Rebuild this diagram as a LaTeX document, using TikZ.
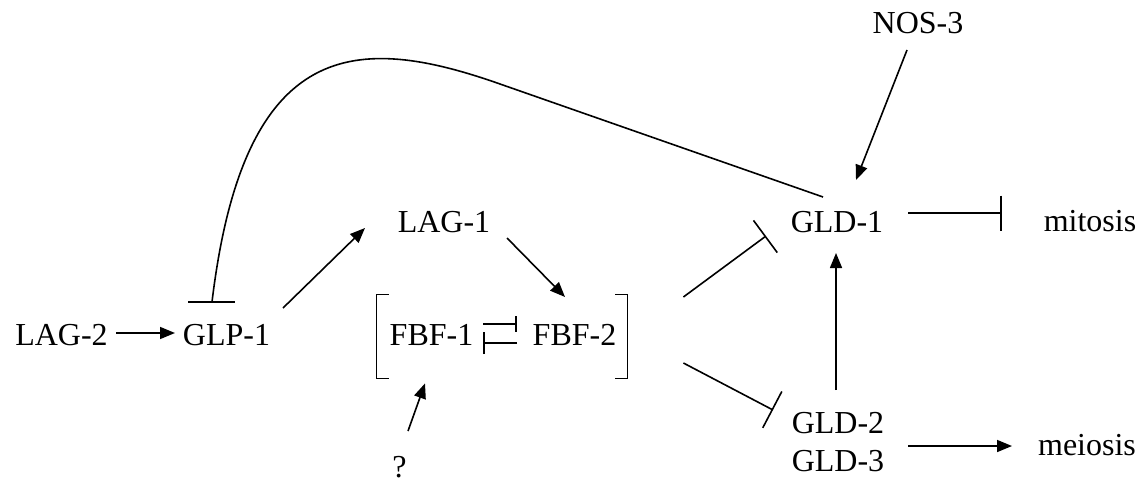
\documentclass[tikz,border=0pt]{standalone}
\usepackage{fontspec}
\setmainfont{Liberation Serif}
\usetikzlibrary{arrows.meta}
\begin{document}
\begin{tikzpicture}[x=0.5pt,y=-0.5pt,
  lbl/.style={inner sep=0pt, anchor=base, font=\fontsize{16pt}{19pt}\selectfont},
  plain/.style={line width=0.8pt},
  act/.style={line width=0.8pt, -{Triangle[length=7.5pt,width=6pt]}},
  inh/.style={line width=0.8pt, -{Bar[width=#1]}},
]
\useasboundingbox (0,0) rectangle (1145,482);
% nodes
\node[lbl] (lag2) at (61.5,345) {LAG-2};
\node[lbl] (glp1) at (226.5,345) {GLP-1};
\node[lbl] (lag1) at (444,232) {LAG-1};
\node[lbl] (fbf1) at (431.5,345) {FBF-1};
\node[lbl] (fbf2) at (574.5,345) {FBF-2};
\node[lbl] (q) at (399.5,477) {?};
\node[lbl] (nos3) at (918,33) {NOS-3};
\node[lbl] (gld1) at (837,232) {GLD-1};
\node[lbl] (mitosis) at (1090,231) {mitosis};
\node[lbl] (gld2) at (838,433) {GLD-2};
\node[lbl] (gld3) at (838,471) {GLD-3};
\node[lbl] (meiosis) at (1087,455) {meiosis};
\node[inner sep=0pt, minimum width=125pt, minimum height=41.5pt] (fbf) at (502,336.5) {};
% brackets
\draw[plain] ([xshift=6pt]fbf.north west) -- (fbf.north west) -- (fbf.south west) -- ([xshift=6pt]fbf.south west);
\draw[plain] ([xshift=-6pt]fbf.north east) -- (fbf.north east) -- (fbf.south east) -- ([xshift=-6pt]fbf.south east);
% activations
\draw[act] ([shift={(54.5,-12)}]lag2.base) -- ([shift={(-51.5,-12)}]glp1.base);
\draw[act] ([shift={(56.5,-37)}]glp1.base) -- ([shift={(-79,-4)}]lag1.base);
\draw[act] ([shift={(63,6)}]lag1.base) -- ([shift={(-9.5,-48)}]fbf2.base);
\draw[act] ([shift={(8.5,-46)}]q.base) -- ([shift={(-77,5)}]fbf.south);
\draw[act] ([shift={(-2,-43)}]gld2.base) -- ([shift={(-1,21)}]gld1.base);
\draw[act] ([shift={(-11,17)}]nos3.base) -- ([shift={(19,-52)}]gld1.base);
\draw[act] ([shift={(70,13)}]gld2.base) -- ([shift={(-75,-9)}]meiosis.base);
% inhibitions
\draw[inh=8pt] ([shift={(51.5,-21)}]fbf1.base) -- ([shift={(-57.5,-21)}]fbf2.base);
\draw[inh=11pt] ([shift={(-57.5,-2)}]fbf2.base) -- ([shift={(51.5,-2)}]fbf1.base);
\draw[inh=20pt] ([shift={(56,-39.5)}]fbf.east) -- ([shift={(-71,4)}]gld1.base);
\draw[inh=20.5pt] ([shift={(56,26.5)}]fbf.east) -- ([shift={(-65,-23)}]gld2.base);
\draw[inh=17.5pt] ([shift={(71,-19)}]gld1.base) -- ([shift={(-88,-18)}]mitosis.base);
% long curve GLD-1 -| GLP-1
\draw[plain] ([shift={(-14,-35)}]gld1.base) -- (500,84) .. controls (358,34) and (244,35) .. ([shift={(-14.5,-43)}]glp1.base);
\draw[plain] ([shift={(-38.5,-43)}]glp1.base) -- ([shift={(8.5,-43)}]glp1.base);
\end{tikzpicture}
\end{document}
